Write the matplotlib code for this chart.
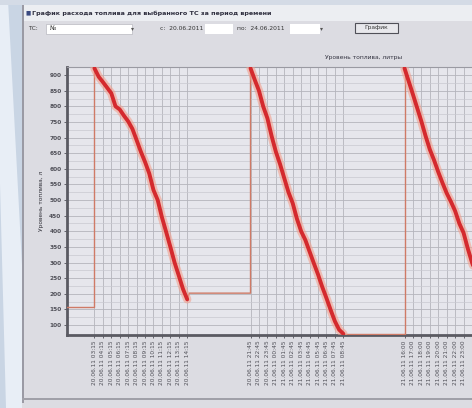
"""
Fuel level chart (screenshot of a desktop window), redrawn with matplotlib
"""

from datetime import datetime, timedelta

import matplotlib.pyplot as plt
from matplotlib.patches import Rectangle, Polygon

# start of the period, all times below are hours from here
t0 = datetime(2011, 6, 20, 0, 0)

# flat parts / jumps (thin line)
base_hours = [0.0, 3.25, 3.25]
base_level = [158, 158, 922]

# decline 1
dec1_hours = [3.25, 3.75, 4.25, 4.75, 5.25, 5.75, 6.25, 6.75, 7.25, 7.75, 8.25, 8.75,
              9.25, 9.75, 10.25, 10.75, 11.25, 11.75, 12.25, 12.75, 13.25, 13.75, 14.25]
dec1_level = [922, 895, 878, 860, 842, 800, 790, 770, 752, 728, 692, 655,
              622, 585, 532, 500, 445, 398, 350, 300, 258, 215, 182]

gap1_hours = [14.25, 14.5, 21.75, 21.75]
gap1_level = [182, 202, 202, 922]

# decline 2
dec2_hours = [21.75, 22.25, 22.75, 23.25, 23.75, 24.25, 24.75, 25.25, 25.75, 26.25, 26.75, 27.25,
              27.75, 28.25, 28.75, 29.25, 29.75, 30.25, 30.75, 31.25, 31.75, 32.25, 32.75]
dec2_level = [922, 885, 850, 800, 762, 705, 655, 615, 570, 525, 490, 440,
              400, 372, 335, 298, 262, 222, 186, 148, 112, 85, 72]

gap2_hours = [32.75, 40.0, 40.0]
gap2_level = [72, 72, 922]

# decline 3
dec3_hours = [40.0, 40.5, 41.0, 41.5, 42.0, 42.5, 43.0, 43.5, 44.0, 44.5,
              45.0, 45.5, 46.0, 46.5, 47.0, 47.5, 48.0, 48.5, 49.0]
dec3_level = [922, 880, 838, 795, 752, 705, 662, 628, 590, 555,
              522, 495, 465, 425, 395, 345, 300, 262, 220]

y_ticks = list(range(100, 901, 50))

title = 'График расхода топлива для выбранного ТС за период времени'
ylab = 'Уровень топлива, л'
legend_txt = 'Уровень топлива, литры'


def to_dt(hours):
    return [t0 + timedelta(hours=h) for h in hours]


W, H = 472, 408
fig = plt.figure(figsize=(W / 100, H / 100), dpi=100, facecolor='#dcdce2')


# helper: rectangle in pixel coords (top-left origin)
def px_rect(x, y, w, h, **kw):
    fig.patches.append(Rectangle((x / W, 1 - (y + h) / H), w / W, h / H,
                                 transform=fig.transFigure, **kw))


# desktop strip on the left
px_rect(0, 0, 22, H, facecolor='#c9d5e4', edgecolor='none')
fig.patches.append(Polygon([(0, 1), (8 / W, 1), (22 / W, 0.35), (22 / W, 0.0), (6 / W, 0.0), (0, 0.55)],
                           closed=True, transform=fig.transFigure, facecolor='#e8eef6', edgecolor='none'))
px_rect(0, 0, W, 5, facecolor='#d4dbe6', edgecolor='none')
# window title bar
px_rect(22, 5, W - 22, 16, facecolor='#eceef2', edgecolor='none')
px_rect(22, 5, 1.5, H - 10, facecolor='#9a9aa4', edgecolor='none')
px_rect(22, 398, W - 22, 1.5, facecolor='#a0a0a8', edgecolor='none')
fig.text(26 / W, 1 - 13 / H, '■', fontsize=4, color='#3a4a80', va='center')
fig.text(32 / W, 1 - 13 / H, title, fontsize=4.6, fontweight='bold', color='#303040', va='center')

# toolbar
fig.text(28 / W, 1 - 29 / H, 'ТС:', fontsize=4.3, color='#333333', va='center')
px_rect(46, 24, 86, 10, facecolor='white', edgecolor='#b8b8c0', linewidth=0.5)
fig.text(50 / W, 1 - 29 / H, '№', fontsize=4.3, color='#333333', va='center')
fig.text(131 / W, 1 - 29 / H, '▾', fontsize=4.3, color='#555555', va='center')
fig.text(160 / W, 1 - 29 / H, 'с:  20.06.2011', fontsize=4.3, color='#333333', va='center')
px_rect(205, 24, 28, 10, facecolor='white', edgecolor='none')
fig.text(237 / W, 1 - 29 / H, 'по:  24.06.2011', fontsize=4.3, color='#333333', va='center')
px_rect(290, 24, 30, 10, facecolor='white', edgecolor='none')
fig.text(320 / W, 1 - 29 / H, '▾', fontsize=4.3, color='#555555', va='center')
px_rect(355, 23, 43, 10, facecolor='#e8e8ec', edgecolor='#505058', linewidth=0.8)
fig.text(376.5 / W, 1 - 28 / H, 'График', fontsize=4.3, color='#333333', va='center', ha='center')
fig.text(364 / W, 1 - 58 / H, legend_txt, fontsize=4.3, color='#333340', va='center', ha='center')

# chart
ax = fig.add_axes([67 / W, 1 - 335 / H, 1 - 67 / W, (335 - 67) / H])
ax.set_facecolor('#e6e6ec')

thin_c = '#cf7a66'
ax.plot(to_dt(base_hours), base_level, color=thin_c, lw=1.0, zorder=3)
ax.plot(to_dt(gap1_hours), gap1_level, color=thin_c, lw=1.0, zorder=3)
ax.plot(to_dt(gap2_hours), gap2_level, color=thin_c, lw=1.0, zorder=3)

for hh, lv in [(dec1_hours, dec1_level), (dec2_hours, dec2_level), (dec3_hours, dec3_level)]:
    ax.plot(to_dt(hh), lv, color='#f2a08e', lw=6, alpha=0.6, zorder=3, solid_capstyle='round')
    ax.plot(to_dt(hh), lv, color='#d42a2e', lw=2.8, zorder=4, solid_capstyle='round')

ax.set_xlim(t0, t0 + timedelta(hours=48))
ax.set_ylim(68, 926)

# x ticks at the hourly readings (inside the visible window)
tick_hours = [h for h in dec1_hours[::2] + dec2_hours[::2] + dec3_hours[::2] if h < 47.6]
tick_dt = to_dt(tick_hours)
ax.set_xticks(tick_dt)
ax.set_xticklabels([d.strftime('%d.%m.%y %H:%M') for d in tick_dt],
                   rotation=90, fontsize=4.2, color='#404048')

ax.set_yticks(y_ticks)
ax.set_yticklabels([str(v) for v in y_ticks], fontsize=4.2, color='#303038', fontweight='bold')
ax.set_yticks([v + 25 for v in y_ticks[:-1]], minor=True)
ax.tick_params(axis='both', which='major', length=2, width=0.6, pad=2, colors='#505058')
ax.tick_params(axis='y', which='minor', length=0)

ax.grid(True, which='major', color='#b4b4bc', lw=0.6)
ax.grid(True, which='minor', axis='y', color='#c8c8d0', lw=0.5)
ax.set_axisbelow(True)

for s in ['left', 'bottom']:
    ax.spines[s].set_color('#5a5a62')
    ax.spines[s].set_linewidth(2)
ax.spines['top'].set_color('#9a9aa2')
ax.spines['top'].set_linewidth(0.8)
ax.spines['right'].set_visible(False)

ax.set_ylabel(ylab, fontsize=4.2, color='#303038', labelpad=4)

plt.savefig('out.png', dpi=100, facecolor=fig.get_facecolor())
